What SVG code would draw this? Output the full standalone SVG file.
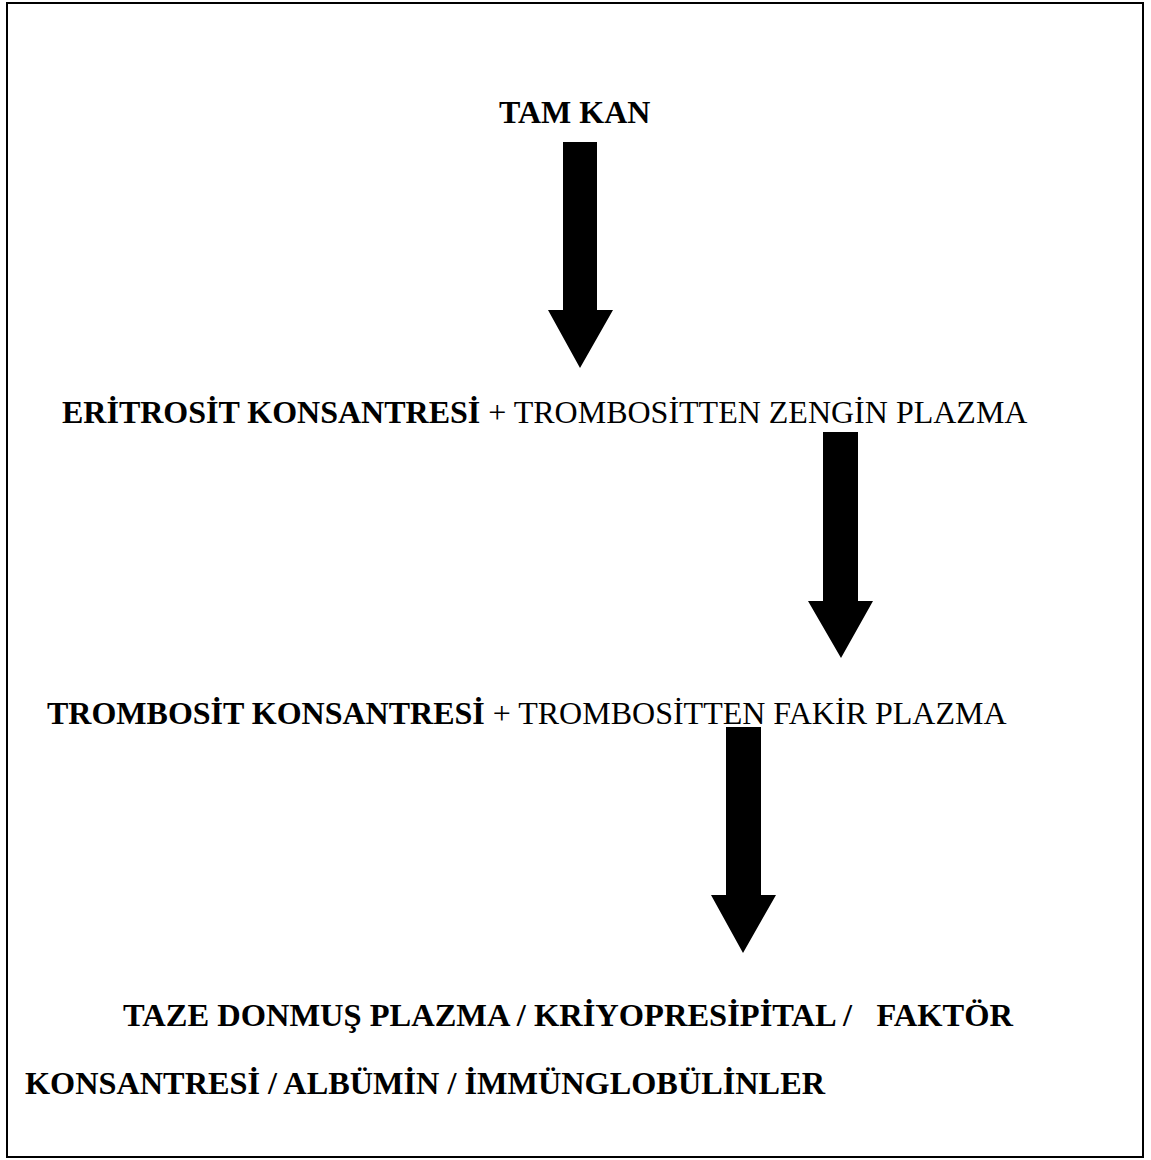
<svg xmlns="http://www.w3.org/2000/svg" width="1151" height="1160" viewBox="0 0 1151 1160">
<style>
text{font-family:"Liberation Serif","Times New Roman",serif;font-size:32px;fill:#000}
.b{font-weight:bold}
.arrow{fill:#000}
</style>
<rect x="0" y="0" width="1151" height="1160" fill="#fff"/>
<rect id="frame" x="7" y="3" width="1136" height="1154" fill="none" stroke="#000" stroke-width="2"/>
<g id="node-tamkan"><text class="b" x="499" y="123">TAM KAN</text></g>
<g id="node-eritrosit"><text x="62" y="423"><tspan class="b">ERİTROSİT KONSANTRESİ</tspan> + TROMBOSİTTEN ZENGİN PLAZMA</text></g>
<g id="node-trombosit"><text x="47" y="724"><tspan class="b">TROMBOSİT KONSANTRESİ</tspan> + TROMBOSİTTEN FAKİR PLAZMA</text></g>
<g id="node-plazma">
<text class="b" x="123" y="1026" textLength="890" lengthAdjust="spacingAndGlyphs" xml:space="preserve">TAZE DONMUŞ PLAZMA / KRİYOPRESİPİTAL /   FAKTÖR</text>
<text class="b" x="25" y="1094" textLength="800" lengthAdjust="spacingAndGlyphs">KONSANTRESİ / ALBÜMİN / İMMÜNGLOBÜLİNLER</text>
</g>
<g id="connectors">
<polygon class="arrow" points="563,142 597,142 597,310 613,310 580,368 548,310 563,310"/>
<polygon class="arrow" points="823,432 858,432 858,601 873,601 841,658 808,601 823,601"/>
<polygon class="arrow" points="726,727 761,727 761,895 776,895 743,953 711,895 726,895"/>
</g>
</svg>
